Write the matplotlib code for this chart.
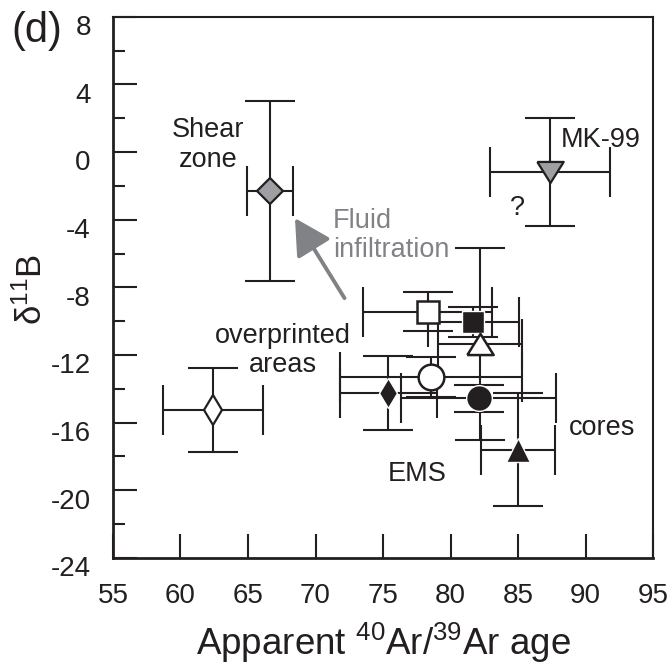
# boron isotopes vs apparent Ar-Ar age, panel (d)

import matplotlib
matplotlib.use("Agg")
import matplotlib.pyplot as plt
from matplotlib.patches import FancyArrowPatch
from matplotlib.transforms import ScaledTranslation

plt.rcParams["font.family"] = ["Liberation Sans", "DejaVu Sans"]
plt.rcParams["mathtext.fontset"] = "custom"
plt.rcParams["mathtext.rm"] = "Liberation Sans"
plt.rcParams["mathtext.it"] = "Liberation Sans:italic"
plt.rcParams["mathtext.bf"] = "Liberation Sans:bold"
plt.rcParams["axes.unicode_minus"] = False

# -----------------------------
# DATA
# -----------------------------

groups = ["shear zone", "MK-99", "overprinted 1", "overprinted 2", "EMS open sq",
          "EMS black sq", "EMS open tri", "EMS open circ", "cores circ", "cores tri"]
age = [66.6, 87.4, 62.4, 75.4, 78.3, 81.7, 82.2, 78.55, 82.1, 85.0]
age_err = [1.7, 4.45, 3.7, 3.6, 4.8, 3.4, 3.1, 6.75, 5.75, 2.75]
d11b = [-2.3, -1.2, -15.25, -14.25, -9.45, -10.05, -11.35, -13.3, -14.55, -17.6]
d11b_err = [5.3, 3.2, 2.5, 2.2, 1.15, 0.9, 5.65, 1.2, 0.8, 3.35]

y_ticks = list(range(-24, 9, 4))
x_ticks = list(range(55, 96, 5))

ink = "#231f20"
grey_fill = "#9d9fa2"
arrow_grey = "#808285"

# flattened triangles (wider than tall)
tri_up = [(-1, -0.8), (1, -0.8), (0, 0.8), (-1, -0.8)]
tri_down = [(-1, 0.8), (1, 0.8), (0, -0.8), (-1, 0.8)]

marker_shape = ["D", tri_down, "d", "d", "s", "s", tri_up, "o", "o", "^"]
marker_face = [grey_fill, grey_fill, "white", ink, "white", ink, "white", "white", ink, ink]
marker_edge = [ink, ink, ink, "white", ink, "white", ink, ink, "white", "white"]
marker_size = [13, 19, 15, 15.5, 16, 16.5, 19, 18.5, 18.5, 17.5]
marker_ew = [1.6, 1.6, 1.6, 1.0, 1.8, 1.0, 1.8, 1.8, 1.0, 1.0]

# -----------------------------
# PLOT
# -----------------------------

fig = plt.figure(figsize=(6.71, 6.69), dpi=100)
ax = fig.add_axes([0.1684, 0.166, 0.8048, 0.809])

for i in range(len(age)):
    ax.errorbar(age[i], d11b[i], xerr=age_err[i], yerr=d11b_err[i], fmt="none",
                ecolor=ink, elinewidth=1.5, capsize=18, capthick=1.5, zorder=2)

for i in range(len(age)):
    ax.plot(age[i], d11b[i], marker=marker_shape[i], ms=marker_size[i],
            mfc=marker_face[i], mec=marker_edge[i], mew=marker_ew[i],
            ls="none", zorder=3)

# fluid infiltration arrow
arrow = FancyArrowPatch((72.15, -8.64), (68.48, -3.91),
                        arrowstyle="-|>,head_length=2.2,head_width=1.2",
                        mutation_scale=10, lw=2.8, color=arrow_grey,
                        shrinkA=0, shrinkB=0, zorder=1)
ax.add_patch(arrow)

# labels inside the plot
txt = dict(fontsize=19.5, color=ink, va="baseline")
ax.text(62.04, 0.9, "Shear", ha="center", **txt)
ax.text(62.04, -0.88, "zone", ha="center", **txt)
ax.text(88.2, 0.32, "MK-99", ha="left", **txt)
ax.text(84.96, -3.72, "?", ha="center", **txt)
ax.text(67.6, -11.31, "overprinted", ha="center", **txt)
ax.text(67.6, -12.98, "areas", ha="center", **txt)
ax.text(77.56, -19.48, "EMS", ha="center", **txt)
ax.text(91.26, -16.72, "cores", ha="center", **txt)
ax.text(71.3, -4.51, "Fluid", ha="left", fontsize=19.5, color=arrow_grey, va="baseline")
ax.text(71.27, -6.18, "infiltration", ha="left", fontsize=19.5, color=arrow_grey, va="baseline")

# -----------------------------
# AXES
# -----------------------------

ax.set_xlim(55, 95)
ax.set_ylim(-24, 8)
ax.set_xticks(x_ticks)
ax.set_xticklabels([str(v) for v in x_ticks])
ax.set_yticks(y_ticks)
ax.set_yticklabels([str(v) for v in y_ticks])
ax.set_yticks(list(range(-22, 8, 4)), minor=True)

ax.tick_params(axis="both", which="both", direction="in", top=False, right=False,
               width=1.5, color=ink, labelcolor=ink, labelsize=20)
ax.tick_params(axis="y", which="major", length=17, pad=16)
ax.tick_params(axis="y", which="minor", length=8.5)
ax.tick_params(axis="x", which="major", length=17, pad=18)

for side in ["left", "bottom"]:
    ax.spines[side].set_linewidth(2.0)
for side in ["top", "right"]:
    ax.spines[side].set_linewidth(1.5)
for side in ax.spines:
    ax.spines[side].set_color(ink)

# y tick labels hang just below their ticks
shift = ScaledTranslation(0, -6 / 72, fig.dpi_scale_trans)
for lab in ax.get_yticklabels():
    lab.set_transform(lab.get_transform() + shift)

fig.text(0.5708, 0.0209, "Apparent $^{40}$Ar/$^{39}$Ar age", ha="center",
         va="baseline", fontsize=26.5, color=ink)
fig.text(0.0621, 0.568, "δ$^{11}$B", ha="center", va="baseline", rotation=90,
         rotation_mode="anchor", fontsize=25, color=ink)
fig.text(0.0174, 0.9377, "(d)", ha="left", va="baseline", fontsize=30, color=ink)

fig.savefig("out.png", dpi=100)
